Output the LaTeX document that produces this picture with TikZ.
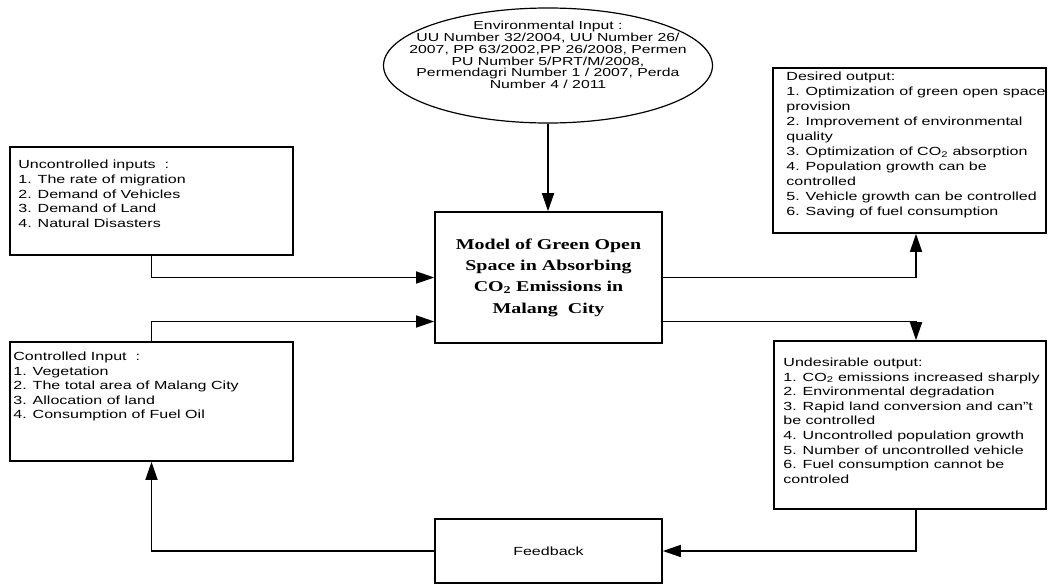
\documentclass[tikz,border=0pt]{standalone}
\usepackage{fontspec}
\usepackage{tikz}
\usetikzlibrary{arrows.meta,shapes.geometric}

\newfontfamily\boxfont{Liberation Sans}[FakeStretch=1.36]
\newfontfamily\titlefont{Liberation Serif}[FakeStretch=1.33]

\tikzset{
  iobox/.style={draw, rectangle, line width=1.6pt, inner sep=0pt},
  boxtext/.style={anchor=north west, inner sep=0pt, align=left,
    font=\boxfont\fontsize{11.8}{14.6}\selectfont},
  flow/.style={line width=1.5pt, -{Triangle[length=18pt,width=12pt]}}
}

\begin{document}
\begin{tikzpicture}[x=1pt, y=-1pt]
\useasboundingbox (0,0) rectangle (1048,584);

% environmental input
\node[draw, ellipse, line width=1.2pt, minimum width=329pt, minimum height=115pt] (env) at (548,65.5) {};
\node[align=center, inner sep=0pt, font=\boxfont\fontsize{11.6}{11.7}\selectfont] (envtext) at (548,55)
  {Environmental Input :\\UU Number 32/2004, UU Number 26/\\2007, PP 63/2002,PP 26/2008, Permen\\PU Number 5/PRT/M/2008,\\Permendagri Number 1 / 2007, Perda\\Number 4 / 2011};

% the model
\node[iobox, minimum width=227pt, minimum height=131pt, align=center,
  font=\titlefont\bfseries\fontsize{15}{21.3}\selectfont] (main) at (548.5,277.5)
  {Model of Green Open\\Space in Absorbing\\CO\textsubscript{2} Emissions in\\Malang\ \ City};

% inputs
\node[iobox, minimum width=283pt, minimum height=108pt] (unc) at (151.5,201) {};
\node[boxtext] (unctext) at ([shift={(9,14)}]unc.north west)
  {Uncontrolled inputs\ \ :\\1. The rate of migration\\2. Demand of Vehicles\\3. Demand of Land\\4. Natural Disasters};

\node[iobox, minimum width=283pt, minimum height=119pt] (con) at (151.5,401.5) {};
\node[boxtext] (context) at ([shift={(4,10.5)}]con.north west)
  {Controlled Input\ \ :\\1. Vegetation\\2. The total area of Malang City\\3. Allocation of land\\4. Consumption of Fuel Oil};

% outputs
\node[iobox, minimum width=273pt, minimum height=165pt] (des) at (909.5,150.5) {};
\node[boxtext, font=\boxfont\fontsize{11.8}{14.9}\selectfont] (destext) at ([shift={(14,5)}]des.north west)
  {Desired output:\\1. Optimization of green open space\\provision\\2. Improvement of environmental\\quality\\3. Optimization of CO\textsubscript{2} absorption\\4. Population growth can be\\controlled\\5. Vehicle growth can be controlled\\6. Saving of fuel consumption};

\node[iobox, minimum width=272pt, minimum height=168pt] (und) at (910,425) {};
\node[boxtext] (undtext) at ([shift={(10,17.5)}]und.north west)
  {Undesirable output:\\1. CO\textsubscript{2} emissions increased sharply\\2. Environmental degradation\\3. Rapid land conversion and can”t\\be controlled\\4. Uncontrolled population growth\\5. Number of uncontrolled vehicle\\6. Fuel consumption cannot be\\controled};

% feedback
\node[iobox, minimum width=227pt, minimum height=64pt, font=\boxfont\fontsize{11.8}{14.6}\selectfont] (fb) at (548.5,551) {Feedback};

% connectors
\draw[flow] (env.south) -- (env.south |- main.north);
\draw[flow] (unc.south) |- (main.west);
\draw[flow] (con.north) |- ([yshift=-44pt]main.west);
\draw[flow] (main.east) -| ([xshift=6.5pt]des.south);
\draw[flow] ([yshift=-44pt]main.east) -| ([xshift=6pt]und.north);
\draw[flow] ([xshift=6pt]und.south) |- (fb.east);
\draw[flow] (fb.west) -| (con.south);
\end{tikzpicture}
\end{document}
